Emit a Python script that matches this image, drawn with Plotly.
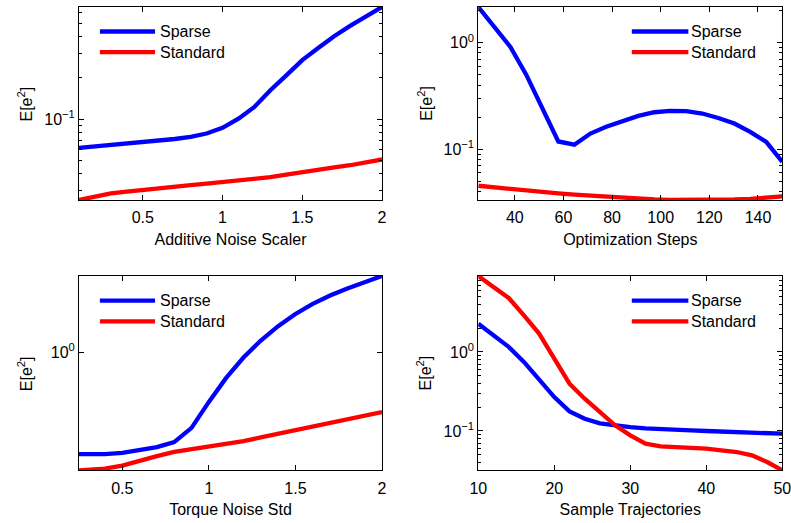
import numpy as np
import plotly.graph_objects as go

# ---------------- data ----------------
noise_x = [0.1, 0.2, 0.3, 0.4, 0.5, 0.6, 0.7, 0.8, 0.9, 1.0,
           1.1, 1.2, 1.3, 1.4, 1.5, 1.6, 1.7, 1.8, 1.9, 2.0]
noise_sparse = [0.0617, 0.0632, 0.0647, 0.066, 0.068, 0.0697, 0.0717, 0.0743, 0.0786, 0.0864,
                0.101, 0.123, 0.163, 0.209, 0.27, 0.331, 0.404, 0.48, 0.558, 0.66]
noise_standard = [0.0257, 0.0273, 0.0287, 0.0296, 0.0303, 0.0312, 0.0321, 0.033, 0.0339, 0.0348,
                  0.0355, 0.0363, 0.0377, 0.0394, 0.0412, 0.0428, 0.0444, 0.0461, 0.0484, 0.0508]

steps_x = [25, 31.6, 38.2, 44.7, 51.3, 57.9, 64.5, 71.1, 77.6, 84.2,
           90.8, 97.4, 103.9, 110.5, 117.1, 123.7, 130.3, 136.8, 143.4, 150]
steps_sparse = [2.16, 1.40, 0.91, 0.50, 0.24, 0.118, 0.110, 0.14, 0.162, 0.184,
                0.205, 0.222, 0.229, 0.227, 0.216, 0.196, 0.174, 0.145, 0.117, 0.076]
steps_standard = [0.0453, 0.0437, 0.0420, 0.0408, 0.0396, 0.0384, 0.0374, 0.0365, 0.0356, 0.0348,
                  0.0342, 0.0337, 0.0334, 0.0333, 0.0333, 0.0334, 0.0337, 0.0341, 0.0349, 0.0360]

torque_x = [0.25, 0.4, 0.5, 0.6, 0.7, 0.8, 0.9, 1.0, 1.1, 1.2,
            1.3, 1.4, 1.5, 1.6, 1.7, 1.8, 1.9, 2.0]
torque_sparse = [0.396, 0.396, 0.401, 0.41, 0.422, 0.442, 0.503, 0.637, 0.792, 0.953,
                 1.112, 1.268, 1.416, 1.552, 1.675, 1.786, 1.892, 2.0]
torque_standard = [0.342, 0.347, 0.357, 0.374, 0.389, 0.404, 0.414, 0.422, 0.434, 0.446,
                   0.461, 0.477, 0.493, 0.51, 0.527, 0.544, 0.562, 0.581]

traj_x = [10, 12, 14, 16, 18, 20, 22, 24, 26, 28, 30,
          32, 34, 36, 38, 40, 42, 44, 46, 48, 50]
traj_sparse = [2.28, 1.62, 1.16, 0.75, 0.459, 0.269, 0.177, 0.143, 0.125, 0.117, 0.112,
               0.108, 0.105, 0.104, 0.102, 0.100, 0.099, 0.098, 0.096, 0.094, 0.0924]
traj_standard = [9.16, 6.65, 4.83, 2.91, 1.71, 0.823, 0.397, 0.256, 0.174, 0.118, 0.088,
                 0.069, 0.064, 0.063, 0.062, 0.0597, 0.057, 0.0542, 0.0492, 0.0405, 0.0318]

series_names = ["Sparse", "Standard"]
y_title = "E[e<sup>2</sup>]"

panels = [
    dict(x=noise_x, s=noise_sparse, t=noise_standard, xlabel="Additive Noise Scaler",
         xticks=[0.5, 1, 1.5, 2], xticktext=["0.5", "1", "1.5", "2"],
         yticks=[0.1], yticktext=["10<sup>\u22121</sup>"], minor=True, leg="left"),
    dict(x=steps_x, s=steps_sparse, t=steps_standard, xlabel="Optimization Steps",
         xticks=[40, 60, 80, 100, 120, 140], xticktext=["40", "60", "80", "100", "120", "140"],
         yticks=[0.1, 1], yticktext=["10<sup>\u22121</sup>", "10<sup>0</sup>"], minor=True, leg="right"),
    dict(x=torque_x, s=torque_sparse, t=torque_standard, xlabel="Torque Noise Std",
         xticks=[0.5, 1, 1.5, 2], xticktext=["0.5", "1", "1.5", "2"],
         yticks=[1], yticktext=["10<sup>0</sup>"], minor=False, leg="left"),
    dict(x=traj_x, s=traj_sparse, t=traj_standard, xlabel="Sample Trajectories",
         xticks=[10, 20, 30, 40, 50], xticktext=["10", "20", "30", "40", "50"],
         yticks=[0.1, 1], yticktext=["10<sup>\u22121</sup>", "10<sup>0</sup>"], minor=True, leg="right"),
]

# ---------------- layout geometry ----------------
W, H = 791, 523
col_px = [(79, 382), (478.3, 782.3)]
row_px = [(7, 200), (276, 470.3)]
FONT = "Liberation Sans, Arial, Helvetica, sans-serif"
FS = 16
colors = ["#0000FF", "#FF0000"]

fig = go.Figure()
layout = dict(width=W, height=H, margin=dict(l=0, r=0, t=0, b=0, pad=0, autoexpand=False),
              paper_bgcolor="white", plot_bgcolor="white", showlegend=False,
              font=dict(family=FONT, size=FS, color="black"))
shapes, annotations = [], []

minor_vals = [m * 10.0 ** e for e in range(-3, 2) for m in range(2, 10)]

for i, p in enumerate(panels):
    r, c = divmod(i, 2)
    n = "" if i == 0 else str(i + 1)
    xa, ya = "xaxis" + n, "yaxis" + n
    xd = [col_px[c][0] / W, col_px[c][1] / W]
    yd = [1 - row_px[r][1] / H, 1 - row_px[r][0] / H]

    for name, vals, col in zip(series_names, [p["s"], p["t"]], colors):
        fig.add_trace(go.Scatter(x=p["x"], y=vals, mode="lines", name=name,
                                 line=dict(color=col, width=4.3),
                                 xaxis="x" + n, yaxis="y" + n))

    allv = list(p["s"]) + list(p["t"])
    yr = [np.log10(min(allv)), np.log10(max(allv))]
    axis_common = dict(showline=True, linecolor="black", linewidth=1, mirror="ticks",
                       ticks="inside", ticklen=5, tickcolor="black", showgrid=False,
                       zeroline=False, automargin=False, ticklabeloverflow="allow",
                       tickfont=dict(size=FS, family=FONT, color="black"))
    layout[xa] = dict(domain=xd, range=[min(p["x"]), max(p["x"])], anchor="y" + n,
                      tickmode="array", tickvals=p["xticks"], ticktext=p["xticktext"],
                      ticklabelstandoff=3,
                      title=dict(text=p["xlabel"], standoff=8, font=dict(size=FS)),
                      **axis_common)
    ydict = dict(domain=yd, type="log", range=yr, anchor="x" + n,
                 tickmode="array", tickvals=p["yticks"], ticktext=p["yticktext"],
                 **axis_common)
    if p["minor"]:
        ydict["minor"] = dict(ticks="inside", ticklen=3, tickcolor="black",
                              tickmode="array", tickvals=minor_vals)
    layout[ya] = ydict

    # y-axis title
    annotations.append(dict(text=y_title, xref="paper", yref="paper",
                            x=(col_px[c][0] - 54) / W, y=(yd[0] + yd[1]) / 2,
                            showarrow=False, textangle=-90, xanchor="center", yanchor="middle",
                            font=dict(size=FS, family=FONT, color="black")))

    # legend (inside upper corner)
    if p["leg"] == "left":
        lx0, lx1, tx = 0.069, 0.251, 0.262
    else:
        lx0, lx1, tx = 0.505, 0.691, 0.694
    for name, col, ly in zip(series_names, colors, [0.873, 0.766]):
        shapes.append(dict(type="line", xref="x" + n + " domain", yref="y" + n + " domain",
                           x0=lx0, x1=lx1, y0=ly, y1=ly, line=dict(color=col, width=4.3)))
        annotations.append(dict(text=name, xref="x" + n + " domain", yref="y" + n + " domain",
                                x=tx, y=ly, showarrow=False, xanchor="left", yanchor="middle",
                                font=dict(size=FS, family=FONT, color="black")))

layout["shapes"] = shapes
layout["annotations"] = annotations
fig.update_layout(**layout)
fig.write_html("out.html")
